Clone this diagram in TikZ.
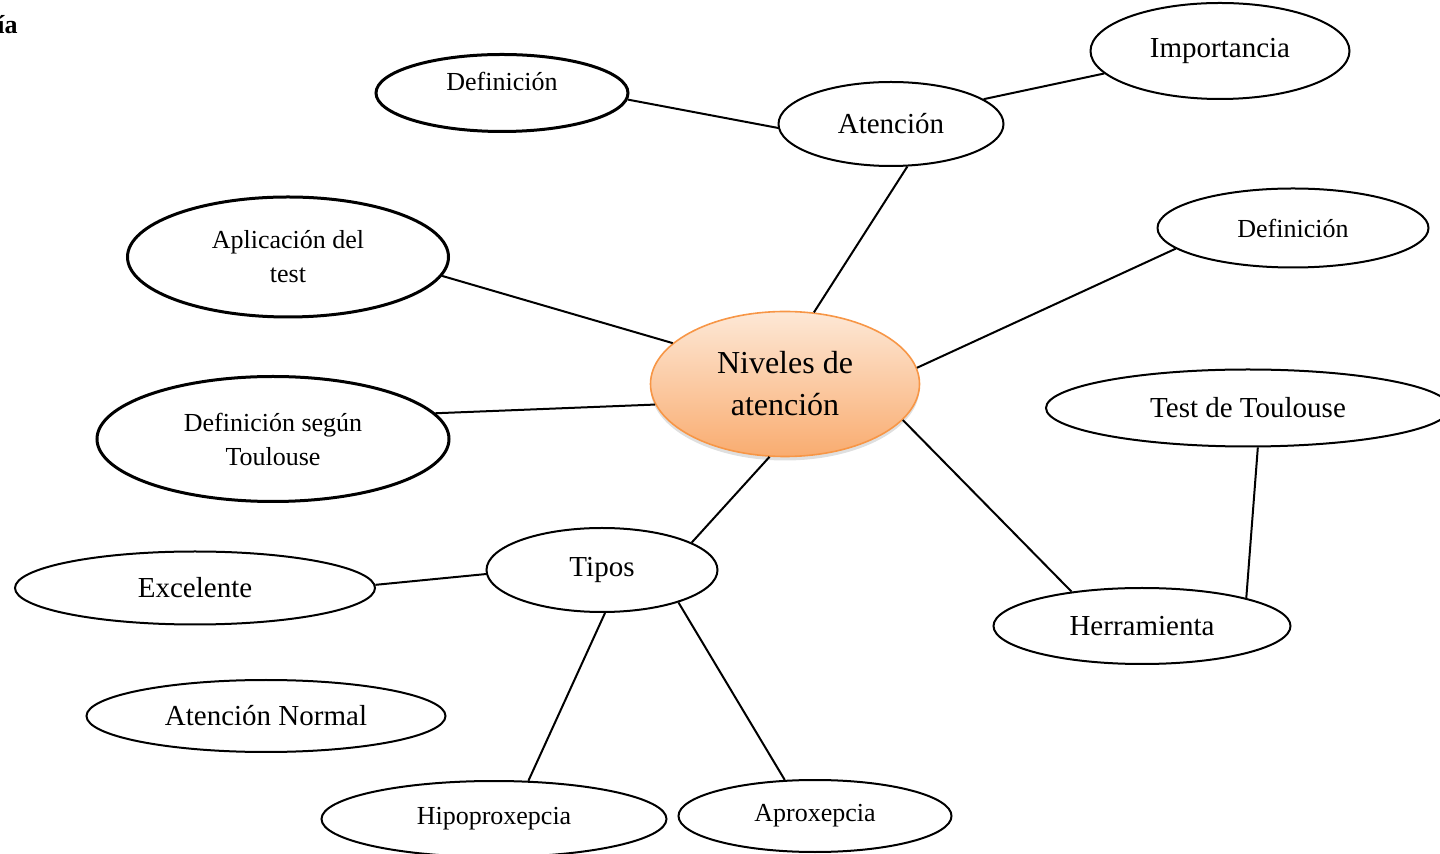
\documentclass[tikz,border=0pt]{standalone}
\usepackage{fontspec}
\setmainfont{Liberation Serif}
\usetikzlibrary{shapes.geometric,shadows}
\definecolor{naranja}{HTML}{F79646}
\definecolor{naranjaclaro}{HTML}{FDE8D6}
\definecolor{naranjaoscuro}{HTML}{F9AC70}
\begin{document}
\begin{tikzpicture}[x=0.5pt, y=-0.5pt,
		burbuja/.style={ellipse, draw, line width=1pt, inner sep=0pt},
		gruesa/.style={burbuja, line width=1.5pt},
		tam/.style 2 args={minimum width=#1*0.5pt, minimum height=#2*0.5pt},
		chica/.style={font=\fontsize{13}{17}\selectfont},
		media/.style={font=\fontsize{14.5}{17}\selectfont},
		centro/.style={ellipse, draw=naranja, line width=0.8pt, inner sep=0pt,
			top color=naranjaclaro, bottom color=naranjaoscuro,
			drop shadow={opacity=0.25, shadow xshift=0pt, shadow yshift=-2pt},
			font=\fontsize{16}{21}\selectfont, align=center},
		enlace/.style={line width=1pt}]
		\useasboundingbox (0,0) rectangle (1440,854);
		\node[anchor=base east, inner sep=0pt, font=\bfseries\fontsize{13}{15}\selectfont] (titulo) at (18,34) {ía};
		\node[gruesa, chica, tam={252}{77}] (def1) at (502,93) {\raisebox{12pt}{Definición}};
		\node[burbuja, media, tam={225}{84}] (atencion) at (891,124) {Atención};
		\node[burbuja, media, tam={259}{96}] (importancia) at (1220,51) {Importancia};
		\node[burbuja, chica, tam={271}{79}] (def2) at (1293,228) {Definición};
		\node[gruesa, chica, align=center, tam={321}{120}] (aplicacion) at (288,257) {Aplicación del\\test};
		\node[centro, tam={269}{145}] (niveles) at (785,384) {Niveles de\\atención};
		\node[gruesa, chica, align=center, tam={352}{125}] (segun) at (273,439) {Definición según\\Toulouse};
		\node[burbuja, media, tam={404}{77}] (test) at (1248,408) {Test de Toulouse};
		\node[burbuja, media, tam={297}{76}] (herramienta) at (1142,626) {Herramienta};
		\node[burbuja, media, tam={231}{84}] (tipos) at (602,570) {Tipos};
		\node[burbuja, media, tam={360}{73}] (excelente) at (195,588) {Excelente};
		\node[burbuja, media, tam={359}{72}] (normal) at (266,716) {Atención Normal};
		\node[burbuja, chica, tam={345}{76}] (hipo) at (494,819) {Hipoproxepcia};
		\node[burbuja, chica, tam={273}{72}] (aprox) at (815,816) {Aproxepcia};
		\draw[enlace] (def1.-3) -- (atencion.182);
		\draw[enlace] (atencion.15) -- (importancia.191);
		\draw[enlace] (atencion.-69) -- (niveles.68);
		\draw[enlace] (aplicacion.-7) -- (niveles.160);
		\draw[enlace] (segun.9) -- (niveles.189);
		\draw[enlace] (niveles.7) -- (def2.190);
		\draw[enlace] (niveles.-17) -- (herramienta.154);
		\draw[enlace] (test.-76) -- (herramienta.15);
		\draw[enlace] (niveles.-102) -- (tipos.17);
		\draw[enlace] (tipos.182) -- (excelente.1);
		\draw[enlace] (tipos.-86) -- (hipo.48);
		\draw[enlace] (tipos.-23) -- (aprox.130);
	\end{tikzpicture}
\end{document}
